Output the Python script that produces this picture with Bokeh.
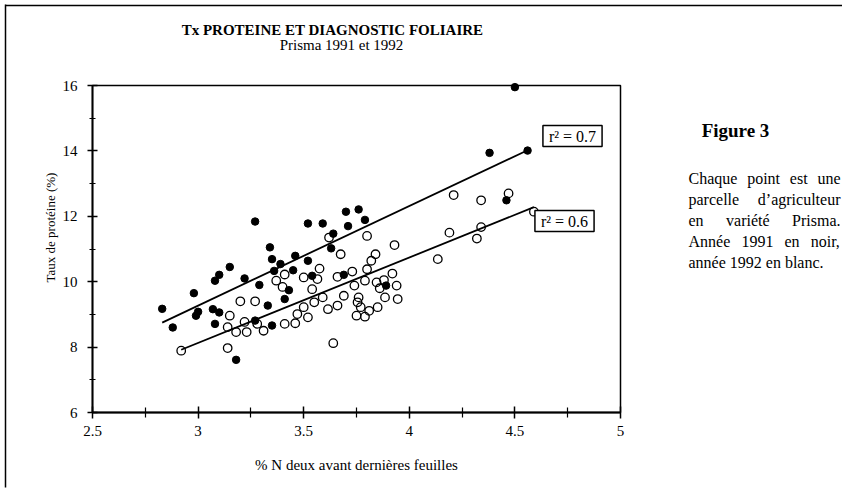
from math import pi
from bokeh.plotting import figure
from bokeh.models import Label, FixedTicker, Range1d
from bokeh.core.properties import value
from bokeh.embed import file_html
from bokeh.resources import INLINE

# ---------------- data ----------------
x_1991 = [2.83, 2.88, 2.98, 3.00, 2.99, 3.07, 3.10, 3.08, 3.15, 3.10, 3.08, 3.22, 3.29, 3.27,
          3.18, 3.27, 3.34, 3.35, 3.46, 3.39, 3.52, 3.45, 3.36, 3.52, 3.59, 3.70, 3.76, 3.79,
          3.71, 3.64, 3.63, 3.43, 3.54, 3.69, 3.89, 3.41, 3.33, 3.35, 4.38, 4.56, 4.50, 4.46]
y_1991 = [9.17, 8.60, 9.65, 9.08, 8.96, 9.16, 9.06, 8.71, 10.45, 10.21, 10.03, 10.10, 9.90, 8.81,
          7.61, 11.84, 11.05, 10.69, 10.79, 10.54, 10.64, 10.35, 10.33, 11.78, 11.78, 12.14, 12.21, 11.89,
          11.70, 11.47, 11.02, 9.74, 10.18, 10.21, 9.88, 9.47, 9.27, 8.66, 13.94, 14.01, 15.95, 12.49]

x_1992 = [2.92, 3.14, 3.20, 3.27, 3.15, 3.14, 3.18, 3.22, 3.23, 3.28, 3.31, 3.37, 3.41, 3.40, 3.50,
          3.565, 3.54, 3.575, 3.62, 3.66, 3.675, 3.73, 3.80, 3.84, 3.82, 3.80, 3.79, 3.74, 3.69, 3.76,
          3.755, 3.77, 3.81, 3.85, 3.86, 3.845, 3.88, 3.92, 3.94, 3.885, 3.945, 3.93, 3.75, 3.79, 3.615,
          3.66, 3.59, 3.55, 3.50, 3.47, 3.52, 3.46, 3.41, 3.64, 4.135, 4.19, 4.34, 4.32, 4.21, 4.34,
          4.47, 4.59]
y_1992 = [7.89, 7.97, 9.40, 9.40, 8.96, 8.61, 8.46, 8.77, 8.46, 8.71, 8.50, 10.03, 10.22, 9.84, 10.13,
          10.08, 9.77, 10.40, 11.35, 10.15, 10.84, 10.31, 11.40, 10.84, 10.64, 10.38, 10.03, 9.88, 9.57, 9.52,
          9.37, 9.22, 9.11, 9.22, 9.80, 9.98, 10.05, 10.25, 9.88, 9.52, 9.47, 11.12, 8.96, 8.93, 9.16,
          9.27, 9.52, 9.37, 9.22, 9.01, 8.91, 8.73, 8.71, 8.12, 10.69, 11.50, 11.67, 11.32, 12.65, 12.49,
          12.70, 12.14]

fit_1991_x = [2.83, 4.56]
fit_1991_y = [8.75, 14.02]
fit_1992_x = [2.92, 4.59]
fit_1992_y = [7.92, 12.28]
r2_texts = ["r\u00b2 = 0.7", "r\u00b2 = 0.6"]

x_ticks = [2.5, 3, 3.5, 4, 4.5, 5]
x_tick_labels = ["2.5", "3", "3.5", "4", "4.5", "5"]
x_minor = [2.75, 3.25, 3.75, 4.25, 4.75]
y_ticks = [6, 8, 10, 12, 14, 16]
y_minor = [7, 9, 11, 13, 15]

title_text = "Tx PROTEINE ET DIAGNOSTIC FOLIAIRE"
subtitle_text = "Prisma 1991 et 1992"
x_title = "% N deux avant dernières feuilles"
y_title = "Taux de protéine (%)"
fig_title = "Figure 3"
para_lines = [["Chaque", "point", "est", "une"],
              ["parcelle", "d\u2019agriculteur"],
              ["en", "variété", "Prisma."],
              ["Année", "1991", "en", "noir,"]]
para_last = "année 1992 en blanc."

# ---------------- layout ----------------
W, H = 842, 488
FL, FR, FT, FB = 92, 620, 85, 412
XMIN, XMAX, YMIN, YMAX = 2.5, 5.0, 6.0, 16.0
SERIF = "Liberation Serif"

# approximate Times/Liberation Serif advance widths (em) used to justify the caption
ADV = {"a": .444, "b": .5, "c": .444, "d": .5, "e": .444, "é": .444, "g": .5, "h": .5, "i": .278,
       "l": .278, "m": .778, "n": .5, "o": .5, "p": .5, "q": .5, "r": .333, "s": .389, "t": .278,
       "u": .5, "v": .5, "A": .722, "C": .667, "P": .556, "1": .5, "9": .5, ".": .25, ",": .25,
       "\u2019": .333}


def em_width(word):
    return sum(ADV.get(ch, .5) for ch in word)


def dx(px):
    return XMIN + (px - FL) * (XMAX - XMIN) / (FR - FL)


def dy(py):
    return YMIN + (FB - py) * (YMAX - YMIN) / (FB - FT)


p = figure(width=W, height=H, output_backend="svg", toolbar_location=None,
           x_range=Range1d(XMIN, XMAX), y_range=Range1d(YMIN, YMAX),
           min_border_left=FL, min_border_right=W - FR,
           min_border_top=FT, min_border_bottom=H - FB)
p.grid.visible = False
p.outline_line_color = "black"
p.outline_line_width = 1.5
p.background_fill_color = "white"
p.border_fill_color = "white"

p.xaxis.ticker = FixedTicker(ticks=x_ticks, minor_ticks=x_minor)
p.yaxis.ticker = FixedTicker(ticks=y_ticks, minor_ticks=y_minor)
p.xaxis.major_label_overrides = dict(zip(x_ticks, x_tick_labels))
for ax in (p.xaxis[0], p.yaxis[0]):
    ax.axis_line_color = "black"
    ax.axis_line_width = 1.8
    ax.major_tick_line_color = "black"
    ax.major_tick_line_width = 1.5
    ax.minor_tick_line_color = "black"
    ax.minor_tick_line_width = 1.2
    ax.major_label_text_font = SERIF
    ax.major_label_text_font_size = "15px"
    ax.major_label_text_color = "black"
p.xaxis.major_tick_in = 6
p.xaxis.major_tick_out = 6
p.xaxis.minor_tick_in = 5
p.xaxis.minor_tick_out = 5
p.yaxis.major_tick_in = 5
p.yaxis.major_tick_out = 5
p.yaxis.minor_tick_in = 3
p.yaxis.minor_tick_out = 3
p.xaxis.major_label_standoff = 7
p.yaxis.major_label_standoff = 10
p.xaxis.axis_label = x_title
p.xaxis.axis_label_text_font = SERIF
p.xaxis.axis_label_text_font_size = "15px"
p.xaxis.axis_label_text_font_style = "normal"
p.xaxis.axis_label_text_color = "black"
p.xaxis.axis_label_standoff = 18

# regression lines
p.line(fit_1991_x, fit_1991_y, line_color="black", line_width=1.8)
p.line(fit_1992_x, fit_1992_y, line_color="black", line_width=1.8)

# points
p.scatter(x_1992, y_1992, marker="circle", size=8.5, fill_color="white", fill_alpha=0.0,
          line_color="black", line_width=1.3)
p.scatter(x_1991, y_1991, marker="circle", size=7.5, fill_color="black", line_color="black",
          level="overlay")

# r² boxes
for txt, (cx, cy) in zip(r2_texts, [(572, 135.5), (564, 220.5)]):
    p.add_layout(Label(x=dx(cx), y=dy(cy), text=txt, text_font=SERIF, text_font_size="16px",
                       text_align="center", text_baseline="middle", text_color="black",
                       border_line_color="black", border_line_width=1.5,
                       background_fill_color="white", padding=(6, 2)))

# outer page border (left and top)
p.segment(x0=[dx(5), dx(5)], y0=[dy(4), dy(5)], x1=[dx(5), dx(842)], y1=[dy(487), dy(5)],
          line_color="black", line_width=1.5, level="overlay")


def put_text(px, py, txt, size, style="normal", align="center", angle=0.0):
    p.text(x=[dx(px)], y=[dy(py)], text=[txt], text_font=value(SERIF),
           text_font_size=value(size), text_font_style=style, text_align=align,
           text_baseline="middle", angle=angle, text_color="black", level="overlay")


# titles
put_text(332, 29, title_text, "15px", style="bold")
put_text(341, 44, subtitle_text, "15px")
put_text(50, 227, y_title, "13px", angle=pi / 2)

# right-hand caption (justified block 688..840)
put_text(735, 130, fig_title, "19px", style="bold")
PL, PR, PSIZE = 688, 840, 16
line_y = [178, 199, 220, 241]
for words, ly in zip(para_lines, line_y):
    widths = [em_width(w) * PSIZE for w in words]
    gap = (PR - PL - sum(widths)) / (len(words) - 1)
    xx = PL
    for w, wd in zip(words, widths):
        put_text(xx, ly, w, f"{PSIZE}px", align="left")
        xx += wd + gap
put_text(PL, 262, para_last, f"{PSIZE}px", align="left")

open("out.html", "w").write(file_html(p, INLINE))
